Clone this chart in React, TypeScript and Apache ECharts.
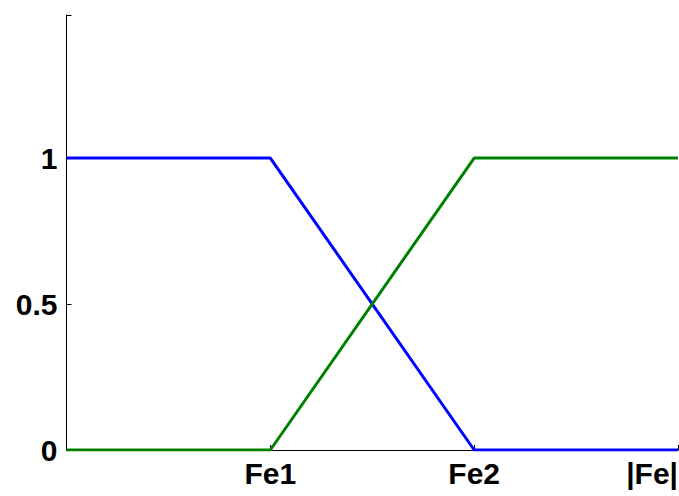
import React, { useEffect, useRef } from "react";
import * as echarts from "echarts";

// Membership functions over |Fe|: "small" falls, "large" rises between Fe1 and Fe2
const xPoints = [0, 1, 2, 3];
const smallMembership = [1, 1, 0, 0];
const largeMembership = [0, 0, 1, 1];

const xTickValues = [1, 2, 3];
const xTickLabels = ["Fe1", "Fe2", "|Fe|"];
const yTickValues = [0, 0.5, 1];
const yTickLabels = ["0", "0.5", "1"];
const yMax = 1.49;

const labelFont = {
  color: "#000",
  fontFamily: "'Liberation Sans', Arial, sans-serif",
  fontWeight: "bold" as const,
  fontSize: 30,
};

export default function App() {
  const ref = useRef<HTMLDivElement>(null);

  useEffect(() => {
    document.body.style.margin = "0";
    if (!ref.current) return;
    const chart = echarts.init(ref.current, null, { renderer: "svg" });
    chart.setOption({
      animation: false,
      backgroundColor: "#fff",
      grid: {
        left: 66.5,
        right: 1,
        top: 15,
        bottom: 46,
        containLabel: false,
        outerBoundsMode: "none",
      },
      xAxis: {
        type: "value",
        min: 0,
        max: 3,
        splitLine: { show: false },
        axisLine: { show: true, lineStyle: { color: "#000", width: 1 } },
        axisTick: {
          show: true,
          inside: true,
          length: 5,
          customValues: xTickValues,
          lineStyle: { color: "#000", width: 1 },
        },
        axisLabel: {
          ...labelFont,
          margin: 8,
          customValues: xTickValues,
          alignMaxLabel: "right",
          formatter: (v: number) => {
            const i = xTickValues.indexOf(v);
            return i >= 0 ? xTickLabels[i] : "";
          },
        },
      },
      yAxis: {
        type: "value",
        min: 0,
        max: yMax,
        splitLine: { show: false },
        axisLine: { show: true, lineStyle: { color: "#000", width: 1 } },
        axisTick: {
          show: true,
          inside: true,
          length: 5,
          customValues: [...yTickValues, yMax],
          lineStyle: { color: "#000", width: 1 },
        },
        axisLabel: {
          ...labelFont,
          margin: 9,
          customValues: yTickValues,
          formatter: (v: number) => {
            const i = yTickValues.indexOf(v);
            return i >= 0 ? yTickLabels[i] : "";
          },
        },
      },
      series: [
        {
          name: "small",
          type: "line",
          data: xPoints.map((x, i) => [x, smallMembership[i]]),
          showSymbol: false,
          lineStyle: { color: "#0000ff", width: 3 },
          itemStyle: { color: "#0000ff" },
        },
        {
          name: "large",
          type: "line",
          data: xPoints.map((x, i) => [x, largeMembership[i]]),
          showSymbol: false,
          lineStyle: { color: "#008000", width: 3 },
          itemStyle: { color: "#008000" },
        },
      ],
    });
    return () => chart.dispose();
  }, []);

  return (
    <div
      ref={ref}
      style={{ position: "absolute", left: 0, top: 0, width: 679, height: 496 }}
    />
  );
}
